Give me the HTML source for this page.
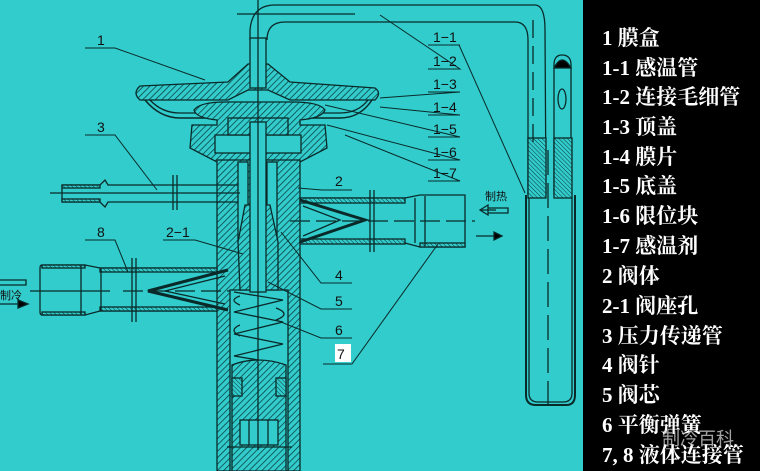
<!DOCTYPE html>
<html><head><meta charset="utf-8"><style>
html,body{margin:0;padding:0;}
body{width:760px;height:471px;overflow:hidden;background:#33cccc;}
svg{display:block;}
.lg{font-family:"Liberation Serif","Noto Serif CJK SC",serif;font-weight:bold;font-size:21px;fill:#fff;}
.lb{font-family:"Liberation Sans",sans-serif;font-size:14px;fill:#111;}
</style></head><body>
<svg width="760" height="471" viewBox="0 0 760 471" xmlns="http://www.w3.org/2000/svg">
<defs>
<pattern id="h" width="4.5" height="4.5" patternUnits="userSpaceOnUse" patternTransform="rotate(45)">
<rect width="4.5" height="4.5" fill="#33cccc"/><line x1="0" y1="0" x2="0" y2="4.5" stroke="#0a3a3a" stroke-width="1.5"/>
</pattern>
<pattern id="h2" width="3" height="3" patternUnits="userSpaceOnUse" patternTransform="rotate(-45)">
<rect width="3" height="3" fill="#33cccc"/><line x1="0" y1="0" x2="0" y2="3" stroke="#0a3a3a" stroke-width="1"/>
</pattern>
</defs>
<rect width="760" height="471" fill="#33cccc"/>
<g stroke="#0a2a2a" stroke-width="1.3" fill="none">
<path d="M250 40 L250 30 Q252 5 275 5 L535 5 Q545 5 545 30 L546 195"/>
<path d="M267 40 Q267 22 285 22 L515 22 Q528 22 528 40 L528 195"/>
<path d="M554 195 L554 65 Q554 55 562 55 Q571 55 571 65 L571 195"/>
<path d="M554 68 Q562 52 571 68 Z" fill="#000"/>
<ellipse cx="562" cy="99" rx="4" ry="10"/>
<path d="M526 195 L526 395 Q526 405 536 405 L566 405 Q575 405 575 395 L575 195" stroke-width="2"/>
<path d="M529 198 L529 393 Q529 402 538 402 L563 402 Q572 402 572 393 L572 198"/>
<rect x="528" y="138" width="18" height="60" fill="url(#h2)"/>
<rect x="554" y="138" width="18" height="60" fill="url(#h2)"/>
<line x1="548" y1="150" x2="548" y2="411" stroke-dasharray="25 8"/>
<line x1="533" y1="20" x2="533" y2="150" stroke-dasharray="18 8"/>
<path d="M140 86 L228 82 L248 64 L268 64 L290 82 L375 88 Q382 93 375 100 L290 100 L268 90 L248 90 L228 100 L140 100 Q132 93 140 86 Z" fill="url(#h)"/>
<path d="M145 100 Q160 118 180 118 L340 118 Q360 118 372 100" stroke-width="1.5"/>
<path d="M150 100 Q162 113 180 113 L340 113 Q358 113 368 100"/>
<rect x="250" y="38" width="16" height="50" fill="#33cccc"/>
<path d="M194 110 Q200 102 225 102 L292 102 Q320 102 325 110 Q322 118 300 120 L300 125 L325 125 L327 148 L300 162 L217 162 L190 148 L192 125 L217 125 L217 120 Q196 118 194 110 Z" fill="url(#h)"/>
<rect x="215" y="135" width="86" height="18" fill="#33cccc"/>
<rect x="228" y="118" width="60" height="17" fill="url(#h)"/>
<rect x="217" y="160" width="83" height="311" fill="url(#h)"/>
<rect x="230" y="290" width="58" height="181" fill="#33cccc"/>
<rect x="238" y="162" width="10" height="80" fill="#33cccc"/>
<rect x="267" y="162" width="10" height="80" fill="#33cccc"/>
<path d="M238 242 L245 205 L270 205 L278 242 L278 290 L240 290 Z" fill="url(#h)"/>
<rect x="250" y="122" width="16" height="170" fill="#33cccc"/>
<path d="M234 292 L283 300 L234 312 L283 322 L234 334 L283 344 L234 356 L283 364"/>
<path d="M240 296 Q228 300 240 305 M276 308 Q292 314 276 320 M240 325 Q228 330 240 336"/>
<path d="M232 365 Q258 355 286 365 L286 471 L232 471 Z" fill="url(#h)"/>
<rect x="232" y="378" width="10" height="18" fill="url(#h2)"/>
<rect x="276" y="378" width="10" height="18" fill="url(#h2)"/>
<rect x="240" y="420" width="38" height="25" fill="#33cccc"/>
<line x1="249" y1="420" x2="249" y2="445"/><line x1="268" y1="420" x2="268" y2="445"/>
<line x1="227" y1="447" x2="292" y2="447"/>
<line x1="258" y1="0" x2="258" y2="450"/>
<path d="M300 198 L405 198 L420 195 L465 195 L465 247 L420 247 L405 243 L300 243"/>
<rect x="300" y="198" width="105" height="5" fill="url(#h2)"/>
<rect x="300" y="239" width="105" height="5" fill="url(#h2)"/>
<rect x="420" y="243" width="45" height="4" fill="url(#h2)"/>
<line x1="415" y1="198" x2="415" y2="243"/><line x1="425" y1="196" x2="425" y2="246"/>
<line x1="370" y1="190" x2="370" y2="252"/><line x1="374" y1="190" x2="374" y2="252"/>
<line x1="290" y1="221" x2="475" y2="221" stroke-dasharray="20 6"/>
<path d="M300 200 L365 220 L300 242" stroke-width="3"/>
<path d="M303 206 L340 220 L303 236"/>
<path d="M217 268 L100 268 L85 265 L42 265 Q40 265 40 268 L40 312 Q40 315 42 315 L85 315 L100 311 L217 311"/>
<rect x="100" y="268" width="117" height="4" fill="url(#h2)"/>
<rect x="100" y="307" width="117" height="4" fill="url(#h2)"/>
<rect x="42" y="265" width="43" height="3" fill="url(#h2)"/>
<rect x="42" y="312" width="43" height="3" fill="url(#h2)"/>
<line x1="81" y1="265" x2="81" y2="315"/><line x1="101" y1="268" x2="101" y2="311"/>
<line x1="132" y1="258" x2="132" y2="322"/><line x1="136" y1="258" x2="136" y2="322"/>
<line x1="30" y1="291" x2="110" y2="291"/><line x1="123" y1="291" x2="230" y2="291" stroke-dasharray="20 6"/>
<path d="M228 270 L148 291 L228 310" stroke-width="3"/>
<path d="M225 276 L165 291 L225 304"/>
<path d="M62 185 L100 185 L105 180 L108 185 L238 185 M62 202 L100 202 L105 207 L108 202 L238 202 M62 185 L62 202"/>
<rect x="62" y="185" width="38" height="3" fill="url(#h2)"/><rect x="62" y="199" width="38" height="3" fill="url(#h2)"/>
<line x1="50" y1="193" x2="240" y2="193"/>
<line x1="173" y1="175" x2="173" y2="210"/><line x1="177" y1="175" x2="177" y2="210"/>
<line x1="237" y1="14" x2="355" y2="14"/>
<g stroke-width="1">
<path d="M85 48 L115 48 L205 80"/>
<path d="M85 135 L115 135 L157 190"/>
<path d="M298 188 L322 190 L352 190"/>
<path d="M85 240 L115 240 L128 272"/>
<path d="M163 240 L195 240 L243 254"/>
<path d="M281 232 L321 283 L352 283"/>
<path d="M268 282 L321 309 L352 309"/>
<path d="M276 320 L321 338 L352 338"/>
<path d="M323 364 L352 364 L438 244"/>
<path d="M428 45 L460 45 M459 45 L525 193"/>
<path d="M428 69 L460 69 L380 15"/>
<path d="M428 92 L460 92 L380 98"/>
<path d="M428 115 L460 115 L380 107"/>
<path d="M428 137 L460 137 L325 105"/>
<path d="M428 160 L460 160 L327 125"/>
<path d="M428 181 L460 181 L345 135"/>
</g>
<path d="M480 210 L496 210 M480 210 L488 205 L488 215 Z M488 208 L508 208 L508 213 L488 213"/>
<path d="M476 236 L502 236" /><path d="M502 236 L494 232 L494 240 Z" fill="#000"/>
<path d="M0 280 L26 280 L26 285 L0 285"/>
<path d="M0 304 L26 304"/><path d="M28 304 L18 300 L18 308 Z" fill="#000"/>
</g>
<g class="lb">
<text x="97" y="45">1</text>
<text x="97" y="132">3</text>
<text x="97" y="237">8</text>
<text x="166" y="237">2−1</text>
<text x="335" y="186">2</text>
<text x="335" y="280">4</text>
<text x="335" y="306">5</text>
<text x="335" y="335">6</text>
<rect x="335" y="344" width="16" height="18" fill="#fff"/>
<text x="337" y="359">7</text>
<text x="433" y="42">1−1</text>
<text x="433" y="66">1−2</text>
<text x="433" y="89">1−3</text>
<text x="433" y="112">1−4</text>
<text x="433" y="134">1−5</text>
<text x="433" y="157">1−6</text>
<text x="433" y="178">1−7</text>
<text x="485" y="200" style="font-size:11px;font-family:'Noto Sans CJK SC',sans-serif">制热</text>
<text x="0" y="299" style="font-size:11px;font-family:'Noto Sans CJK SC',sans-serif">制冷</text>
</g>
<rect x="583" y="0" width="177" height="471" fill="#000"/>
<g class="lg">
<text x="602" y="45">1 膜盒</text>
<text x="602" y="75">1-1 感温管</text>
<text x="602" y="104">1-2 连接毛细管</text>
<text x="602" y="134">1-3 顶盖</text>
<text x="602" y="164">1-4 膜片</text>
<text x="602" y="193">1-5 底盖</text>
<text x="602" y="223">1-6 限位块</text>
<text x="602" y="253">1-7 感温剂</text>
<text x="602" y="283">2  阀体</text>
<text x="602" y="313">2-1 阀座孔</text>
<text x="602" y="343">3 压力传递管</text>
<text x="602" y="372">4 阀针</text>
<text x="602" y="402">5 阀芯</text>
<text x="602" y="432">6 平衡弹簧</text>
<text x="602" y="462">7, 8 液体连接管</text>
</g>
<text x="662" y="445" style="font-family:'Noto Sans CJK SC',sans-serif;font-size:18px;fill:#ccc;opacity:0.8">制冷百科</text>
</svg>
</body></html>
